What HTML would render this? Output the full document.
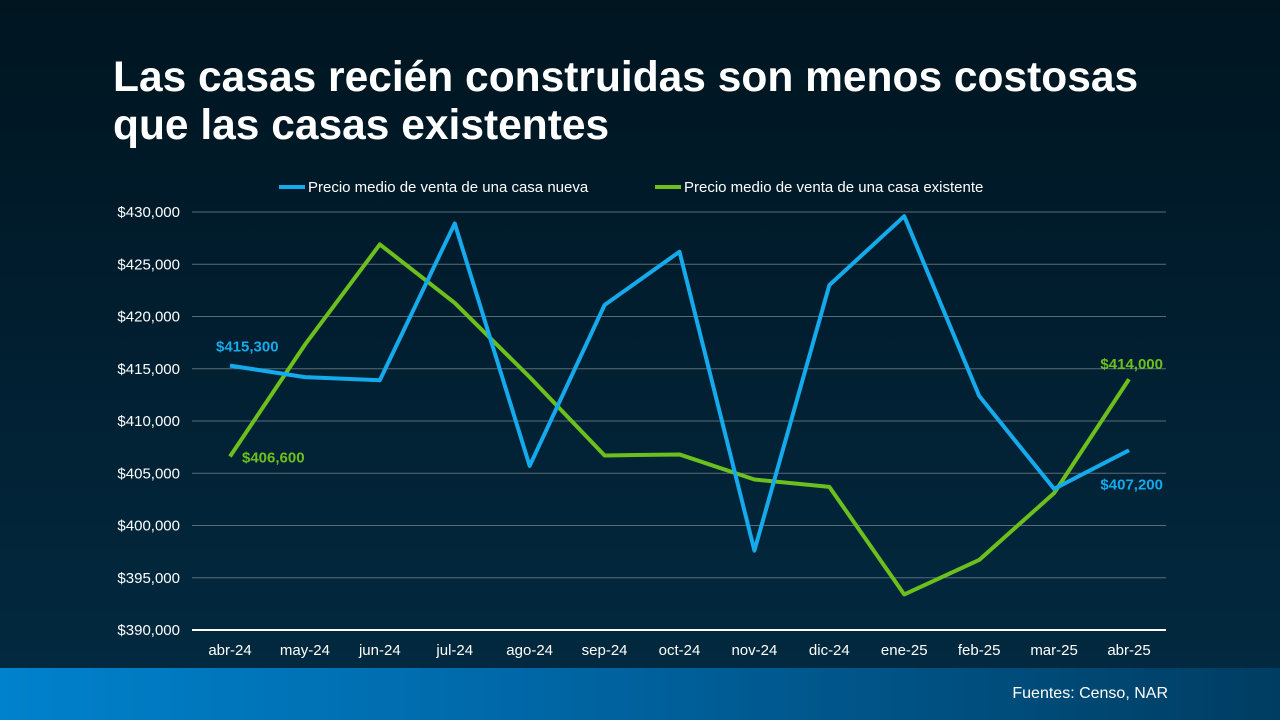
<!DOCTYPE html>
<html><head><meta charset="utf-8"><style>
body{margin:0;width:1280px;height:720px;overflow:hidden;font-family:"Liberation Sans",sans-serif;}
#bg{position:absolute;left:0;top:0;width:1280px;height:720px;background:linear-gradient(180deg,#001520 0%,#011d2e 40%,#02293f 92%);}
#footer{position:absolute;left:0;top:668px;width:1280px;height:52px;background:linear-gradient(90deg,#0082cc 0%,#0068a8 40%,#003d62 100%);}
h1{position:absolute;left:113px;top:54px;margin:0;color:#fff;font-size:42.5px;font-weight:bold;line-height:48px;}
#src{position:absolute;right:112px;top:685px;color:#fff;font-size:16px;}
</style></head><body>
<div id="bg"></div>
<div id="footer"></div>
<h1>Las casas recién construidas son menos costosas<br>que las casas existentes</h1>
<div id="src">Fuentes: Censo, NAR</div>
<svg id="chart" width="1280" height="720" style="position:absolute;left:0;top:0"></svg>
<script>
const categories=["abr-24","may-24","jun-24","jul-24","ago-24","sep-24","oct-24","nov-24","dic-24","ene-25","feb-25","mar-25","abr-25"];
const newHomes=[415300,414200,413900,428900,405700,421100,426200,397600,423000,429600,412400,403500,407200];
const existingHomes=[406600,417300,426900,421300,414200,406700,406800,404400,403700,393400,396700,403100,414000];
const yTicks=[390000,395000,400000,405000,410000,415000,420000,425000,430000];
const seriesNames=["Precio medio de venta de una casa nueva","Precio medio de venta de una casa existente"];
const NS="http://www.w3.org/2000/svg";
const svg=document.getElementById('chart');
const x=i=>230+i*(1129-230)/(categories.length-1);
const y=v=>630-(v-390000)*(630-212)/40000;
function mk(t,a,txt){const e=document.createElementNS(NS,t);for(const k in a)e.setAttribute(k,a[k]);if(txt!==undefined)e.textContent=txt;svg.appendChild(e);return e;}
const fmt=v=>"$"+v.toLocaleString("en-US");
yTicks.forEach(v=>{
 const g=mk('line',{x1:192,x2:1166,y1:y(v),y2:y(v),stroke:v===390000?'#ffffff':'#5b6b78','stroke-width':v===390000?2:1});
 
 
 const t=mk('text',{x:180,y:y(v)+5,fill:'#fff','font-size':15,'text-anchor':'end'},fmt(v));
 
 
});
categories.forEach((c,i)=>{
 const t=mk('text',{x:x(i),y:655,fill:'#fff','font-size':15,'text-anchor':'middle'},c);
 
 
});
function line(data,color,name){
 const p=mk('polyline',{points:data.map((v,i)=>x(i)+','+y(v)).join(' '),fill:'none',stroke:color,'stroke-width':4,'stroke-linejoin':'round'});
 
 
}
line(existingHomes,'#6cc01e','series-existing-homes');
line(newHomes,'#14aaeb','series-new-homes');
const n=categories.length-1;
[[x(0)-14,y(newHomes[0])-14,newHomes[0],'#14aaeb','start'],[x(0)+12,y(existingHomes[0])+6,existingHomes[0],'#6cc01e','start'],
 [x(n)+34,y(newHomes[n])+39,newHomes[n],'#14aaeb','end'],[x(n)+34,y(existingHomes[n])-10,existingHomes[n],'#6cc01e','end']].forEach(d=>{
 const t=mk('text',{x:d[0],y:d[1],fill:d[3],'font-size':15,'font-weight':'bold','text-anchor':d[4]},fmt(d[2]));
 
 
});
[[279,'#14aaeb',seriesNames[0]],[655,'#6cc01e',seriesNames[1]]].forEach(d=>{
 const l=mk('line',{x1:d[0],x2:d[0]+26,y1:187,y2:187,stroke:d[1],'stroke-width':4});
 
 
 const t=mk('text',{x:d[0]+29,y:192,fill:'#fff','font-size':15},d[2]);
 
 
});
</script>
</body></html>
